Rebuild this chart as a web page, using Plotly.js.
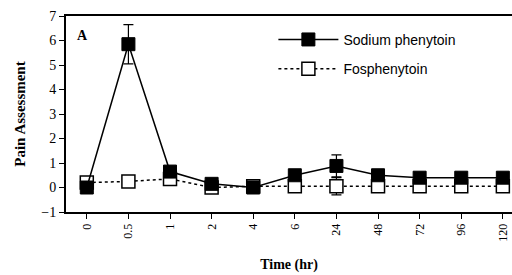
<!DOCTYPE html>
<html><head><meta charset="utf-8">
<script src="https://cdn.plot.ly/plotly-3.0.1.min.js"></script>
<style>html,body{margin:0;padding:0;background:#fff}#c{width:512px;height:275px}</style>
</head><body><div id="c"></div>
<script>
var timeLabels = ["0","0.5","1","2","4","6","24","48","72","96","120"];
var sodiumPhenytoin = [0.0, 5.85, 0.65, 0.15, 0.0, 0.5, 0.88, 0.5, 0.4, 0.4, 0.4];
var sodiumErr = [0, 0.8, 0, 0, 0, 0, 0.45, 0, 0, 0, 0];
var fosphenytoin = [0.2, 0.25, 0.35, 0.0, 0.05, 0.05, 0.05, 0.05, 0.05, 0.05, 0.05];
var fosErr = [0, 0, 0, 0, 0, 0, 0.35, 0, 0, 0, 0];
var yTicks = [-1,0,1,2,3,4,5,6,7];

var traces = [
  {x: timeLabels, y: fosphenytoin, name: "Fosphenytoin", type: "scatter", mode: "lines+markers",
   legendgroup: "f", legendrank: 2,
   line: {color: "#000", width: 1.5, dash: "dot"},
   marker: {symbol: "square", size: 13, color: "#fff", line: {color: "#000", width: 1.5}},
   error_y: {type: "data", array: fosErr, visible: true, color: "#000", thickness: 1.2, width: 5}},
  {x: timeLabels, y: sodiumPhenytoin, name: "Sodium phenytoin", type: "scatter", mode: "lines+markers",
   legendgroup: "s", legendrank: 1,
   line: {color: "#000", width: 1.5},
   marker: {symbol: "square", size: 13, color: "#000", line: {color: "#000", width: 1}},
   error_y: {type: "data", array: sodiumErr, visible: true, color: "#000", thickness: 1.2, width: 5}}
];
var layout = {
  width: 512, height: 275,
  margin: {l: 66, r: 0, t: 16, b: 63},
  paper_bgcolor: "#fff", plot_bgcolor: "#fff",
  font: {family: "Liberation Serif, serif", color: "#000", size: 12},
  showlegend: true,
  legend: {x: 0.465, y: 0.96, xanchor: "left", yanchor: "top", traceorder: "grouped",
           font: {family: "Liberation Sans, sans-serif", size: 14}, bgcolor: "rgba(0,0,0,0)",
           itemwidth: 60, tracegroupgap: 8},
  xaxis: {type: "category", range: [-0.5, 10.22], showline: true, linecolor: "#000", linewidth: 2,
          mirror: true, ticks: "outside", ticklen: 5, tickcolor: "#000", tickangle: -90,
          showgrid: false, zeroline: false, tickfont: {size: 12},
          title: {text: "<b>Time (hr)</b>", font: {size: 14}, standoff: 18}},
  yaxis: {range: [-1, 7], tickvals: yTicks, showline: true, linecolor: "#000", linewidth: 2,
          ticks: "outside", ticklen: 5, tickcolor: "#000", showgrid: false, zeroline: false,
          tickfont: {size: 14},
          title: {text: "<b>Pain Assessment</b>", font: {size: 15}, standoff: 12}},
  annotations: [{text: "<b>A</b>", x: 0.02, y: 0.95, xref: "paper", yref: "paper", showarrow: false,
                 font: {size: 14}, xanchor: "left"}]
};
Plotly.newPlot("c", traces, layout, {displayModeBar: false, staticPlot: true});
</script></body></html>
